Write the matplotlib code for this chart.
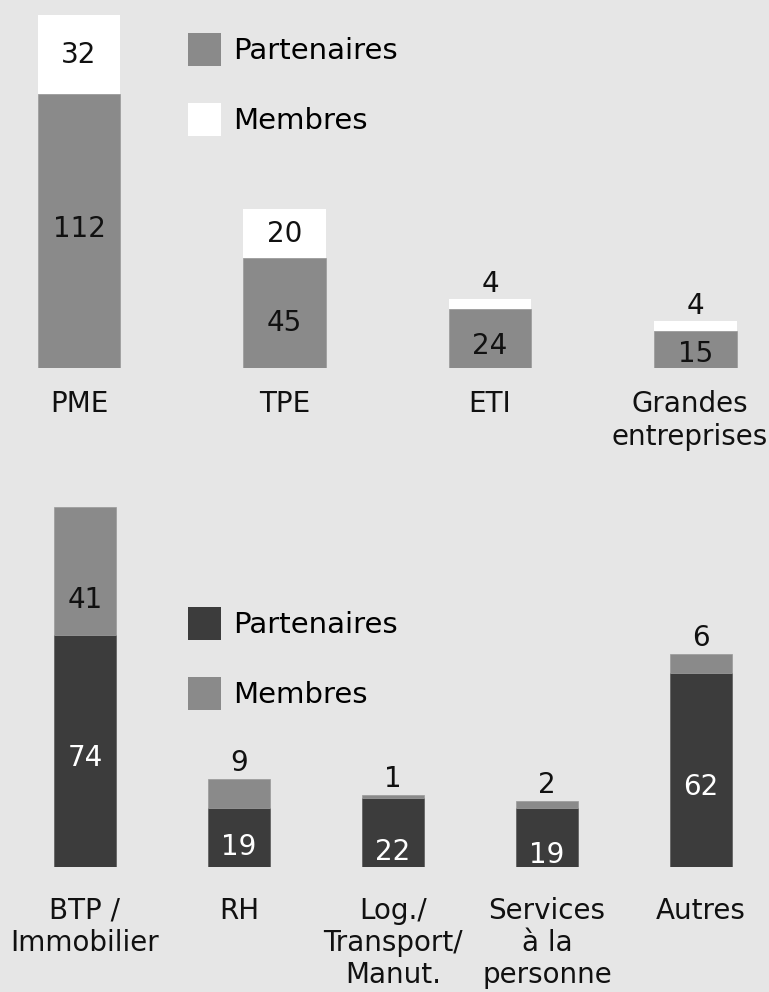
import matplotlib
matplotlib.use("Agg")
import matplotlib.pyplot as plt
from matplotlib.patches import Patch
import numpy as np

# ---- data ----
top_categories = ["PME", "TPE", "ETI", "Grandes\nentreprises"]
top_partenaires = [112, 45, 24, 15]
top_membres = [32, 20, 4, 4]

bot_categories = ["BTP /\nImmobilier", "RH", "Log./\nTransport/\nManut.", "Services\nà la\npersonne", "Autres"]
bot_partenaires = [74, 19, 22, 19, 62]
bot_membres = [41, 9, 1, 2, 6]

# ---- style ----
BG = "#e6e6e6"
GRAY = "#8a8a8a"
DARK = "#3c3c3c"
WHITE = "#ffffff"
plt.rcParams["font.family"] = ["DejaVu Sans"]

W, H = 769, 992
fig = plt.figure(figsize=(W / 100, H / 100), dpi=100, facecolor=BG)

def px_axes(left, top, right, bottom):
    return fig.add_axes([left / W, 1 - bottom / H, (right - left) / W, (bottom - top) / H])

VAL_FS = 20
CAT_FS = 20
LEG_FS = 21
TXT = "#111111"
LEG_KW = dict(loc="upper left", frameon=False, fontsize=LEG_FS,
              handlelength=1.14, handleheight=1.37, handletextpad=0.4, labelspacing=1.25,
              borderpad=0, borderaxespad=0)

# ---- top chart ----
ax1 = px_axes(0, 0.5, W, 368)
ax1.set_facecolor(BG)
x1 = np.arange(len(top_categories))
bw1 = 0.40
ax1.bar(x1, top_partenaires, bw1, color=GRAY, edgecolor="#9a9a9a", linewidth=0.5, label="Partenaires")
ax1.bar(x1, top_membres, bw1, bottom=top_partenaires, color=WHITE, linewidth=0, label="Membres")
ax1.set_xlim(-79 / 205.5, (W - 79) / 205.5)
ax1.set_ylim(0, 367.5 / 2.45)
ax1.axis("off")

# label nudges (points)
top_in_dy = [1, -7, -5, -3]
top_cat_dx = [0, 0, 0, -4]
for i, (p, m) in enumerate(zip(top_partenaires, top_membres)):
    ax1.annotate(str(p), (x1[i], p / 2), xytext=(0, top_in_dy[i]), textcoords="offset points",
                 ha="center", va="center", fontsize=VAL_FS, color=TXT)
    if m >= 10:
        ax1.annotate(str(m), (x1[i], p + m / 2), xytext=(0, -0.5), textcoords="offset points",
                     ha="center", va="center", fontsize=VAL_FS, color=TXT)
    else:
        ax1.annotate(str(m), (x1[i], p + m), xytext=(0, 1), textcoords="offset points",
                     ha="center", va="bottom", fontsize=VAL_FS, color=TXT)
    ax1.annotate(top_categories[i], (x1[i], 0), xytext=(top_cat_dx[i], -15.5), textcoords="offset points",
                 ha="center", va="top", fontsize=CAT_FS, color=TXT,
                 linespacing=1.27, annotation_clip=False)

h1 = [Patch(facecolor=GRAY, edgecolor="none"), Patch(facecolor=WHITE, edgecolor="none")]
fig.legend(h1, ["Partenaires", "Membres"], bbox_to_anchor=(188 / W, 1 - 33 / H), **LEG_KW)

# ---- bottom chart ----
ax2 = px_axes(0, 867 - 120 * 3.13, W, 867)
ax2.set_facecolor(BG)
x2 = np.arange(len(bot_categories))
bw2 = 0.403
ax2.bar(x2, bot_partenaires, bw2, color=DARK, edgecolor="#5a5a5a", linewidth=0.5, label="Partenaires")
ax2.bar(x2, bot_membres, bw2, bottom=bot_partenaires, color=GRAY, edgecolor="#9a9a9a", linewidth=0.5, label="Membres")
ax2.set_xlim(-85 / 154, (W - 85) / 154)
ax2.set_ylim(0, 120)
ax2.axis("off")

bot_in_dy = [-5, -7, -14, -13, -12]
bot_m_in_dy = [-21]
for i, (p, m) in enumerate(zip(bot_partenaires, bot_membres)):
    ax2.annotate(str(p), (x2[i], p / 2), xytext=(0, bot_in_dy[i]), textcoords="offset points",
                 ha="center", va="center", fontsize=VAL_FS, color="white")
    if m >= 10:
        ax2.annotate(str(m), (x2[i], p + m / 2), xytext=(0, bot_m_in_dy[0]), textcoords="offset points",
                     ha="center", va="center", fontsize=VAL_FS, color=TXT)
    else:
        ax2.annotate(str(m), (x2[i], p + m), xytext=(0, 1.5), textcoords="offset points",
                     ha="center", va="bottom", fontsize=VAL_FS, color=TXT)
    ax2.annotate(bot_categories[i], (x2[i], 0), xytext=(0, -21.5), textcoords="offset points",
                 ha="center", va="top", fontsize=CAT_FS, color=TXT,
                 linespacing=1.19, annotation_clip=False)

h2 = [Patch(facecolor=DARK, edgecolor="none"), Patch(facecolor=GRAY, edgecolor="none")]
fig.legend(h2, ["Partenaires", "Membres"], bbox_to_anchor=(188 / W, 1 - 607 / H), **LEG_KW)

fig.savefig("out.png", dpi=100, facecolor=BG)
